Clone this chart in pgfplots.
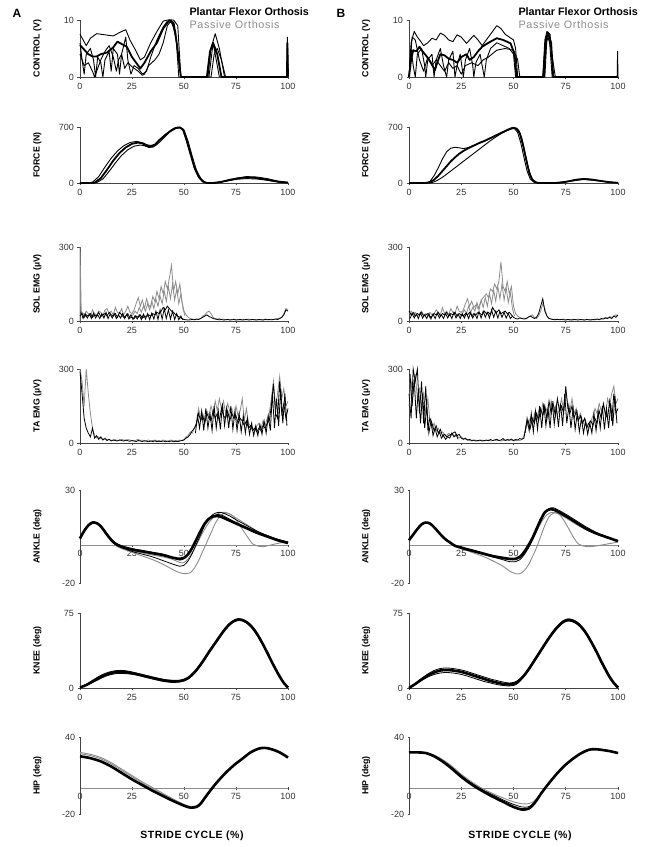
\documentclass[border=0pt]{standalone}
\usepackage{fontspec}
\setmainfont{Liberation Sans}
\usepackage{pgfplots}
\pgfplotsset{compat=1.18}
\definecolor{gr}{HTML}{8C8C8C}
\definecolor{ax}{HTML}{444444}
\pgfplotsset{
 panel/.style={scale only axis, xmin=0, xmax=100, xtick={0,25,50,75,100},
  axis x line*=bottom, axis y line*=left, tick align=outside, major tick length=2.5pt,
  every tick/.style={ax, line width=0.6pt}, axis line style={ax, line width=0.8pt},
  tick label style={font=\fontsize{9}{10}\selectfont, text=black!80},
  ylabel style={font=\bfseries\fontsize{8.8}{10}\selectfont, at={(axis description cs:-0.205,0.5)}, anchor=center},
  /pgf/number format/assume math mode=true, clip=false},
 colA/.style={width=208pt}, colB/.style={width=209pt},
 blk/.style={black, line width=0.9pt, line join=round},
 blkt/.style={black, line width=1.8pt, line join=round},
 gry/.style={gr, line width=0.9pt, line join=round},
 emgg/.style={gr, line width=0.8pt},
 emgb/.style={black, line width=0.8pt},
 kin/.style={black, line width=2.6pt, smooth},
 kint/.style={black, line width=0.8pt, smooth},
 kgr/.style={gr, line width=0.9pt, smooth},
 midx/.style={axis x line*=middle, tick align=center, x axis line style={gr, line width=1.2pt},
   extra x ticks={0.01}, extra x tick labels={0}},
}
\begin{document}
\begin{tikzpicture}
\path[use as bounding box] (0,0) rectangle (651pt,847pt);
\node[font=\bfseries\fontsize{12}{13}\selectfont] at (17pt,834pt) {A};
\node[font=\bfseries\fontsize{12}{13}\selectfont] at (341pt,834pt) {B};
\node[anchor=west, font=\bfseries\fontsize{10.8}{12}\selectfont] at (186pt,835pt) {Plantar Flexor Orthosis};
\node[anchor=west, text=gr, font=\fontsize{10.8}{12}\selectfont\addfontfeatures{LetterSpace=6}] at (186pt,822pt) {Passive Orthosis};
\node[anchor=west, font=\bfseries\fontsize{10.8}{12}\selectfont] at (515pt,835pt) {Plantar Flexor Orthosis};
\node[anchor=west, text=gr, font=\fontsize{10.8}{12}\selectfont\addfontfeatures{LetterSpace=6}] at (515pt,822pt) {Passive Orthosis};
\node[font=\bfseries\fontsize{10.5}{12}\selectfont\addfontfeatures{LetterSpace=5}] at (192pt,11pt) {STRIDE CYCLE (\%)};
\node[font=\bfseries\fontsize{10.5}{12}\selectfont\addfontfeatures{LetterSpace=5}] at (520pt,11pt) {STRIDE CYCLE (\%)};

% ================= COLUMN A =================
% A1 CONTROL
\begin{axis}[panel, colA, height=57pt, at={(80pt,770pt)}, anchor=south west, ymin=0, ymax=10, ytick={0,10}, ylabel={CONTROL (V)}]
\addplot[blk] coordinates {(0,7.5)(1.5,6.5)(3,5.5)(5,6.8)(8,7.6)(12,7.4)(16,7.2)(19,7.8)(22,8.3)(24,6.5)(27,4.5)(29,3)(31,3.5)(34,6)(37,8)(40,9.8)(42,10)(45,10)(47,9)(48.5,0)(61.5,0)(63,5)(65,7.6)(67,5)(69.5,0)(99.4,0)(99.7,7)(100,0)};
\addplot[blk] coordinates {(0,6)(1,3)(2,0.5)(3,4)(5,5)(6.5,3)(7.5,0)(8.5,3.5)(10,2.5)(11,0)(12,3)(14,4.5)(15,1)(16,5)(18,4)(19,0.5)(20,4)(22,7)(23,3)(24.5,0.5)(26,2)(28,1.5)(30,0.5)(32,1)(34,3.5)(37,6.5)(40,8.8)(42,9.8)(44,9.5)(46,8)(47.5,0)(62,0)(63,3)(64,6)(65.5,3)(67,0)(99.5,0)(99.8,5)(100,0)};
\addplot[blk] coordinates {(0,4)(2,2)(4,2.5)(6,1)(7,0)(8,1)(10,3)(12,4.5)(14,5.5)(16,3.5)(17.5,1)(18.5,3)(20,4)(21.5,1.5)(23,2.5)(25,1.8)(28,1)(30,0.3)(31,0.5)(33,2)(36,3)(38,4)(40,6)(42,9)(44,10)(46,7)(47.5,3)(48.5,0)(63,0)(64.5,4)(66,5)(68,3)(70,0)(100,0)};
\addplot[blkt] coordinates {(0,5.6)(2,4.8)(4,4)(6,3.6)(8,3.6)(10,4)(13,4.3)(16,5.2)(18,6.2)(20,5.8)(22.5,5.3)(25,3.5)(27,2.5)(29,1.5)(31,2.5)(34,4.5)(37,6)(40,8.5)(43,10)(45,9.5)(46.5,6)(48.5,0)(61,0)(62.5,4.5)(64,6)(66,4)(68,0)(99.5,0)(99.7,6)(100,0)};
\end{axis}

% A2 FORCE
\begin{axis}[panel, colA, height=56pt, at={(80pt,664pt)}, anchor=south west, ymin=0, ymax=700, ytick={0,700}, ylabel={FORCE (N)}]
\addplot[blk] coordinates {(0,0)(4,0)(6,10)(9,80)(12,200)(15,310)(18,400)(21,465)(24,505)(27,520)(30,505)(32,480)(34,468)(36,485)(38,540)(41,605)(44,665)(46,690)(48,690)(49.5,660)(51,540)(53,360)(55,180)(57,70)(59,15)(61,0)(65,0)(70,20)(75,45)(80,55)(85,50)(90,35)(95,15)(100,3)};
\addplot[blk] coordinates {(0,0)(6,0)(8,5)(11,50)(14,145)(17,250)(20,345)(23,415)(26,460)(29,475)(31,465)(33,445)(35,448)(37,480)(40,555)(43,635)(46,680)(48,690)(50,665)(52,520)(54,330)(56,160)(58,60)(60,10)(62,0)(66,0)(70,25)(75,55)(80,80)(85,75)(90,55)(95,25)(100,8)};
\addplot[blkt] coordinates {(0,0)(5,0)(7,5)(10,60)(13,165)(16,280)(19,375)(22,445)(25,490)(28,505)(30,495)(32,465)(34,455)(36,475)(38,530)(41,600)(44,660)(46,690)(48,695)(49.5,670)(51,560)(53,380)(55,200)(57,80)(59,20)(61,0)(64,0)(68,15)(72,40)(76,60)(80,70)(84,65)(88,50)(92,30)(96,12)(100,5)};
\end{axis}

% A3 SOL EMG
\begin{axis}[panel, colA, height=74pt, at={(80pt,526pt)}, anchor=south west, ymin=0, ymax=300, ytick={0,300}, ylabel={SOL EMG (µV)}]
\addplot[emgg] coordinates {(0,0)(0,300)(0.6,40)(1,35)(2,25)(3,40)(4,30)(5,20)(6,45)(7,30)(8,25)(9,40)(10,35)(11,20)(12,45)(13,50)(14,30)(15,40)(16,25)(17,55)(18,35)(19,30)(20,50)(21,25)(22,40)(23,60)(24,35)(25,30)(26,45)(27,70)(28,95)(29,60)(30,85)(31,50)(32,90)(33,65)(34,55)(35,100)(36,80)(37,120)(38,90)(39,140)(40,110)(41,160)(42,130)(43,175)(44,225)(45,120)(46,160)(47,110)(48,150)(49,80)(50,40)(51,25)(52,15)(53,10)(54,8)(55,6)(56,5)(57,8)(58,10)(59,20)(60,25)(61,35)(62,40)(63,30)(64,15)(65,10)(66,8)(67,10)(68,6)(69,8)(70,5)(71,7)(72,5)(73,6)(74,8)(75,5)(76,6)(77,4)(78,7)(79,5)(80,6)(81,8)(82,5)(83,6)(84,4)(85,7)(86,5)(87,6)(88,5)(89,8)(90,6)(91,5)(92,7)(93,6)(94,8)(95,10)(96,12)(97,15)(98,30)(99,50)(100,45)};
\addplot[emgg] coordinates {(24.5,20)(25.5,25)(26.5,40)(27.5,30)(28.5,55)(29.5,35)(30.5,60)(31.5,40)(32.5,70)(33.5,45)(34.5,80)(35.5,50)(36.5,90)(37.5,60)(38.5,100)(39.5,70)(40.5,120)(41.5,80)(42.5,140)(43.5,90)(44.5,150)(45.5,85)(46.5,130)(47.5,70)(48.5,110)(49.5,50)(50.5,20)};
\addplot[emgb] coordinates {(0,20)(1,30)(2,15)(3,25)(4,20)(5,30)(6,15)(7,25)(8,20)(9,35)(10,18)(11,25)(12,30)(13,20)(14,35)(15,25)(16,20)(17,30)(18,15)(19,35)(20,25)(21,15)(22,20)(23,30)(24,12)(25,15)(26,10)(27,20)(28,15)(29,25)(30,12)(31,20)(32,18)(33,25)(34,20)(35,30)(36,25)(37,35)(38,30)(39,40)(40,55)(41,45)(42,60)(43,50)(44,40)(45,35)(46,25)(47,20)(48,15)(49,10)(50,6)(51,5)(52,4)(53,5)(54,6)(55,5)(56,8)(57,6)(58,10)(59,15)(60,20)(61,25)(62,18)(63,15)(64,10)(65,8)(66,6)(67,5)(68,6)(69,4)(70,5)(71,6)(72,4)(73,5)(74,6)(75,4)(76,5)(77,6)(78,4)(79,5)(80,6)(81,4)(82,5)(83,6)(84,5)(85,4)(86,6)(87,5)(88,4)(89,6)(90,5)(91,6)(92,5)(93,6)(94,8)(95,6)(96,10)(97,15)(98,25)(99,45)(100,40)};
\addplot[emgb] coordinates {(0.5,35)(1.5,10)(2.5,30)(3.5,12)(4.5,28)(5.5,10)(6.5,32)(7.5,12)(8.5,25)(9.5,10)(10.5,30)(11.5,12)(12.5,35)(13.5,10)(14.5,28)(15.5,12)(16.5,30)(17.5,10)(18.5,25)(19.5,12)(20.5,30)(21.5,10)(22.5,28)(23.5,8)(24.5,25)(25.5,6)(26.5,22)(27.5,8)(28.5,25)(29.5,6)(30.5,28)(31.5,8)(32.5,30)(33.5,6)(34.5,32)(35.5,8)(36.5,40)(37.5,6)(38.5,45)(39.5,8)(40.5,50)(41.5,10)(42.5,45)(43.5,8)(44.5,40)(45.5,6)(46.5,30)(47.5,5)(48.5,20)(49.5,4)};
\end{axis}

% A4 TA EMG
\begin{axis}[panel, colA, height=74pt, at={(80pt,404pt)}, anchor=south west, ymin=0, ymax=300, ytick={0,300}, ylabel={TA EMG (µV)}]
\addplot[emgg] coordinates {(0,300)(1,250)(2,150)(3,300)(4,200)(5,120)(6,60)(7,30)(8,20)(9,25)(10,18)(11,15)(12,20)(13,12)(14,15)(15,10)(16,12)(17,14)(18,10)(19,12)(20,15)(21,12)(22,10)(23,14)(24,12)(25,10)(26,8)(27,12)(28,15)(29,10)(30,12)(31,8)(32,10)(33,12)(34,8)(35,10)(36,12)(37,9)(38,10)(39,8)(40,12)(41,10)(42,8)(43,10)(44,12)(45,9)(46,10)(47,8)(48,12)(49,10)(50,15)(51,25)(52,30)(53,45)(54,40)(55,60)(56,80)(57,140)(58,100)(59,120)(60,90)(61,130)(62,110)(63,150)(64,120)(65,170)(66,130)(67,180)(68,140)(69,170)(70,120)(71,160)(72,130)(73,140)(74,100)(75,150)(76,110)(77,130)(78,180)(79,90)(80,140)(81,80)(82,70)(83,60)(84,50)(85,70)(86,80)(87,60)(88,90)(89,70)(90,100)(91,120)(92,180)(93,250)(94,150)(95,200)(96,270)(97,180)(98,220)(99,150)(100,170)};
\addplot[emgb] coordinates {(0,290)(1,200)(2,100)(3,60)(4,40)(5,25)(6,60)(7,20)(8,30)(9,15)(10,25)(11,12)(12,18)(13,10)(14,15)(15,8)(16,12)(17,10)(18,8)(19,12)(20,10)(21,8)(22,12)(23,9)(24,7)(25,10)(26,8)(27,6)(28,10)(29,8)(30,6)(31,9)(32,7)(33,5)(34,8)(35,6)(36,9)(37,5)(38,7)(39,6)(40,8)(41,5)(42,7)(43,6)(44,8)(45,5)(46,7)(47,6)(48,8)(49,10)(50,12)(51,20)(52,25)(53,35)(54,50)(55,60)(56,80)(57,120)(58,90)(59,110)(60,80)(61,120)(62,100)(63,90)(64,130)(65,100)(66,120)(67,90)(68,140)(69,110)(70,100)(71,130)(72,90)(73,120)(74,100)(75,110)(76,80)(77,100)(78,90)(79,70)(80,90)(81,60)(82,70)(83,50)(84,60)(85,45)(86,60)(87,50)(88,70)(89,60)(90,80)(91,90)(92,150)(93,240)(94,120)(95,100)(96,250)(97,120)(98,160)(99,100)(100,140)};
\addplot[emgb] coordinates {(55.5,40)(56.5,110)(57.5,60)(58.5,130)(59.5,50)(60.5,140)(61.5,60)(62.5,120)(63.5,50)(64.5,150)(65.5,60)(66.5,130)(67.5,55)(68.5,160)(69.5,70)(70.5,140)(71.5,60)(72.5,150)(73.5,55)(74.5,130)(75.5,50)(76.5,120)(77.5,45)(78.5,110)(79.5,40)(80.5,100)(81.5,35)(82.5,80)(83.5,30)(84.5,70)(85.5,30)(86.5,75)(87.5,35)(88.5,90)(89.5,40)(90.5,110)(91.5,50)(92.5,200)(93.5,60)(94.5,180)(95.5,70)(96.5,220)(97.5,80)(98.5,200)(99.5,70)};
\end{axis}

% A5 ANKLE
\begin{axis}[panel, colA, midx, height=93pt, at={(80pt,264pt)}, anchor=south west, ymin=-20, ymax=30, ytick={-20,30}, ylabel={ANKLE (deg)}]
\addplot[kgr] coordinates {(0,4)(2,8)(4,11)(6,12.5)(8,12)(10,10.5)(12,7.5)(14,4.5)(16,1.5)(18,-0.5)(20,-1.5)(25,-3.5)(30,-5.5)(35,-7.5)(40,-10)(45,-13)(48,-14.5)(51,-15)(53,-14.5)(55,-12)(57,-8)(59,-3)(61,2)(63,7)(65,12)(67,15.5)(69,17.3)(71,17.5)(73,16.5)(75,14)(78,9)(81,4)(83,1)(85,0)(88,-0.5)(92,0.5)(96,1.5)(100,2)};
\addplot[kgr] coordinates {(0,4)(2,8)(4,11)(6,12.5)(8,12.2)(10,10.5)(12,7.5)(14,4.5)(16,2)(18,0.3)(20,-0.8)(25,-2.5)(30,-3.8)(35,-5)(40,-6)(45,-7.5)(48,-9)(50,-9)(52,-7)(54,-3.5)(56,0.5)(58,5)(60,9)(62,12.5)(64,15)(66,17)(68,18)(70,18)(72,17)(75,15)(80,11.5)(85,8)(90,5)(95,3)(100,1.5)};
\addplot[kint] coordinates {(0,3.5)(2,7.5)(4,10.5)(6,12)(8,12)(10,10.5)(12,7.5)(14,4.5)(16,2)(18,0)(20,-1)(25,-3)(30,-4.5)(35,-6)(40,-8)(45,-10)(48,-11)(50,-10.5)(52,-8)(54,-4)(56,1)(58,6)(60,11)(62,14)(64,16)(66,16.8)(68,16.5)(70,15.5)(75,12.5)(80,10)(85,7.5)(90,5.5)(95,3.5)(100,2)};
\addplot[kint] coordinates {(0,4)(2,8)(4,11)(6,12.5)(8,12.3)(10,10.8)(12,8)(14,5)(16,2.5)(18,1)(20,0)(25,-1.5)(30,-2.5)(35,-3.5)(40,-4.5)(44,-6)(47,-7.5)(49,-7.5)(51,-6)(53,-3)(55,1)(57,5.5)(59,10)(61,13.5)(63,16)(65,17.5)(67,18)(69,17.5)(72,16)(75,14)(80,11)(85,8)(90,5.5)(95,3.5)(100,2)};
\addplot[kin] coordinates {(0,4)(2,8)(4,11)(6,12.5)(8,12.2)(10,10.5)(12,7.5)(14,4.5)(16,2)(18,0.5)(20,-0.5)(25,-2)(30,-3)(35,-4)(40,-5)(45,-6.5)(48,-7)(50,-6.5)(52,-4.5)(54,-1)(56,3.5)(58,8)(60,12)(62,14.5)(64,15.8)(66,16)(68,15.5)(70,14.5)(75,12)(80,9.5)(85,7)(90,5)(95,3)(100,1.5)};
\end{axis}

% A6 KNEE
\begin{axis}[panel, colA, height=75pt, at={(80pt,159pt)}, anchor=south west, ymin=0, ymax=75, ytick={0,75}, ylabel={KNEE (deg)}]
\addplot[kint] coordinates {(0,0.5)(3,3.5)(6,7.5)(9,11.5)(12,14.5)(15,16.5)(18,17.5)(21,17.5)(24,16.5)(27,15)(30,13.5)(33,12)(36,10.5)(39,9)(42,8)(45,7.5)(48,7.5)(50,8.5)(52,10.5)(54,14)(56,18.5)(58,24)(60,30)(62,36.5)(64,42.5)(66,48.5)(68,54.5)(70,60)(72,64.5)(74,67.5)(76,69)(78,68.5)(80,66.5)(82,63)(84,58)(86,51.5)(88,44)(90,36)(92,27.5)(94,19.5)(96,12)(98,5.5)(100,0.5)};
\addplot[kint] coordinates {(0,0.5)(3,2.5)(6,5.5)(9,8.5)(12,11.5)(15,13.5)(18,14.5)(21,14.5)(24,14)(27,13)(30,11.5)(33,10)(36,8.5)(39,7)(42,6)(45,5.5)(48,6)(50,7)(52,9)(54,12.5)(56,17)(58,22.5)(60,28.5)(62,35)(64,41)(66,47)(68,53)(70,58.5)(72,63)(74,66)(76,67.5)(78,67)(80,65)(82,61.5)(84,56.5)(86,50)(88,42.5)(90,34.5)(92,26)(94,18)(96,10.5)(98,4.5)(100,0.5)};
\addplot[kin] coordinates {(0,0.5)(3,3)(6,6.5)(9,10)(12,13)(15,15)(18,16)(21,16)(24,15.2)(27,14)(30,12.5)(33,11)(36,9.5)(39,8.2)(42,7.2)(45,6.8)(48,7)(50,8)(52,10)(54,13.5)(56,18)(58,23.5)(60,29.5)(62,36)(64,42)(66,48)(68,54)(70,59.5)(72,64)(74,67)(76,68.5)(78,68)(80,66)(82,62.5)(84,57.5)(86,51)(88,43.5)(90,35.5)(92,27)(94,19)(96,11.5)(98,5)(100,0.5)};
\end{axis}

% A7 HIP
\begin{axis}[panel, colA, midx, height=77pt, at={(80pt,33pt)}, anchor=south west, ymin=-20, ymax=40, ytick={-20,40}, ylabel={HIP (deg)}]
\addplot[kgr] coordinates {(0,28)(5,26.5)(10,24)(15,20)(20,15)(25,10)(30,5)(35,0.5)(40,-4)(45,-8.5)(50,-12.5)(53,-14)(56,-13.5)(58,-11)(60,-7)(63,-0.5)(66,5.5)(70,12.5)(74,18.5)(78,23.5)(82,28)(86,31)(89,31.8)(92,31)(96,28.5)(100,24.5)};
\addplot[kgr] coordinates {(0,27)(5,25.5)(10,23)(15,19)(20,14)(25,9)(30,4)(35,-0.5)(40,-5)(45,-9.5)(50,-13)(53,-14.5)(56,-14)(58,-11.5)(60,-7.5)(63,-1)(66,5)(70,12)(74,18)(78,23)(82,27.5)(86,30.5)(89,31.5)(92,30.8)(96,28.2)(100,24.2)};
\addplot[kin] coordinates {(0,25)(5,23.5)(10,21)(15,17)(20,12)(25,7)(30,2.5)(35,-2)(40,-6)(45,-10)(50,-13.5)(53,-15)(56,-14.5)(58,-12)(60,-7.5)(63,-1)(66,5)(70,12)(74,18)(78,23)(82,28)(86,31)(89,31.5)(92,30.5)(96,28)(100,24)};
\end{axis}

% ================= COLUMN B =================
% B1 CONTROL
\begin{axis}[panel, colB, height=57pt, at={(409pt,770pt)}, anchor=south west, ymin=0, ymax=10, ytick={0,10}, ylabel={CONTROL (V)}]
\addplot[blk] coordinates {(0,0)(1,6)(2.5,8)(4,7)(5.5,6.3)(7,5.5)(9,6)(11,6.8)(13,6.5)(15,7.7)(17,7.3)(19,6.5)(21,6.2)(23,7.4)(25,7)(27.5,5.9)(29,6.5)(31,7.3)(33,6.5)(35,5.5)(37,6.5)(40,8)(42,9)(44,8.5)(46,7.5)(48,7)(50,6.5)(51,5)(52,0)(64,0)(65,6.5)(66,8)(67.5,7.5)(69,0)(99.6,0)(99.8,4.5)(100,0)};
\addplot[blk] coordinates {(0,0)(1,5)(2,2)(3,0)(4,4)(6,5)(7.5,2)(8,0)(9,3)(11,4)(12,0)(13,3)(15,5)(16.5,2)(18,0)(19,3)(21,4.5)(22,0)(23,2)(24.5,4)(26,0)(27,3)(29,5)(30.5,2)(31,0)(32,2.5)(34,4)(36,0)(37,3)(39,5)(42,6)(45,5.5)(48,5)(50,4)(51,0)(65,0)(66,7)(67,7.5)(68.5,0)(100,0)};
\addplot[blk] coordinates {(0,0)(1.5,7)(3,6.5)(5,3)(7,1)(9,3.5)(11,2)(13,3)(15,2)(17,1)(19,2.5)(21,1.5)(23,2)(25,0.5)(27,2)(30,2.5)(33,2)(35.5,3)(38,3.5)(42,4.7)(46,5)(50,4.7)(52,3)(53,0)(64,0)(65,5)(66.5,7)(68,5)(70,0)(100,0)};
\addplot[blkt] coordinates {(0,0)(1,3)(2,4.7)(3.5,4.5)(5,5.3)(6.5,4.5)(8.5,3.6)(10.5,2.5)(12.4,1.2)(13.5,2.5)(15,4)(17,3.8)(19,3.2)(21,3)(23,2.5)(25,3.5)(27.5,4)(29,3)(31,3.5)(33,4.5)(35,5.3)(38,6)(42,6.8)(45,6.5)(48.6,5.9)(50.5,4)(51.5,0)(64.5,0)(65.5,6.5)(66.5,7.8)(68,6)(69,0)(100,0)};
\end{axis}

% B2 FORCE
\begin{axis}[panel, colB, height=56pt, at={(409pt,664pt)}, anchor=south west, ymin=0, ymax=700, ytick={0,700}, ylabel={FORCE (N)}]
\addplot[blk] coordinates {(0,0)(8,0)(10,20)(12,90)(14,190)(16,300)(18,390)(20,435)(22,445)(24,440)(26,430)(28,440)(30,460)(32,480)(35,510)(38,545)(41,585)(44,625)(47,660)(49,690)(50.5,680)(52,630)(53.5,500)(55,320)(56.5,150)(58,50)(60,5)(62,0)(72,0)(76,20)(80,45)(84,55)(88,45)(92,25)(96,10)(100,2)};
\addplot[blk] coordinates {(0,0)(9,0)(11,5)(13,25)(15,55)(17,90)(19,130)(21,170)(23,210)(25,250)(27,290)(29,330)(31,370)(33,410)(35,450)(37,490)(39,530)(41,565)(43,600)(45,630)(47,655)(49,675)(51,685)(52.5,660)(54,560)(55.5,380)(57,200)(58.5,70)(60,15)(62,0)(72,0)(78,25)(83,45)(88,35)(94,15)(100,3)};
\addplot[blkt] coordinates {(0,0)(8,0)(10,10)(12,40)(14,90)(16,150)(18,210)(20,270)(22,320)(24,365)(26,400)(28,430)(30,455)(32,480)(34,505)(36,525)(38,550)(40,575)(42,600)(44,625)(46,650)(48,675)(50,690)(51.5,680)(53,620)(54.5,480)(56,300)(57.5,130)(59,40)(61,5)(63,0)(70,0)(75,15)(80,40)(84,50)(88,40)(92,25)(96,10)(100,3)};
\end{axis}

% B3 SOL EMG
\begin{axis}[panel, colB, height=74pt, at={(409pt,526pt)}, anchor=south west, ymin=0, ymax=300, ytick={0,300}, ylabel={SOL EMG (µV)}]
\addplot[emgg] coordinates {(0,30)(1,40)(2,25)(3,35)(4,20)(5,30)(6,40)(7,25)(8,30)(9,20)(10,35)(11,25)(12,30)(13,45)(14,35)(15,25)(16,55)(17,30)(18,40)(19,25)(20,50)(21,35)(22,30)(23,60)(24,40)(25,35)(26,45)(27,70)(28,90)(29,60)(30,80)(31,55)(32,65)(33,50)(34,70)(35,90)(36,100)(37,110)(38,95)(39,130)(40,120)(41,150)(42,130)(43,160)(44,240)(45,140)(46,120)(47,160)(48,110)(49,140)(50,60)(51,30)(52,20)(53,15)(54,10)(55,12)(56,8)(57,15)(58,20)(59,25)(60,15)(61,10)(62,20)(63,40)(64,70)(65,50)(66,20)(67,10)(68,8)(69,6)(70,8)(71,5)(72,7)(73,6)(74,8)(75,5)(76,6)(77,4)(78,7)(79,5)(80,6)(81,8)(82,5)(83,6)(84,4)(85,7)(86,5)(87,6)(88,5)(89,8)(90,6)(91,5)(92,7)(93,10)(94,15)(95,12)(96,18)(97,14)(98,20)(99,25)(100,20)};
\addplot[emgg] coordinates {(24.5,20)(25.5,30)(26.5,45)(27.5,30)(28.5,60)(29.5,35)(30.5,55)(31.5,40)(32.5,75)(33.5,45)(34.5,85)(35.5,55)(36.5,95)(37.5,60)(38.5,110)(39.5,70)(40.5,125)(41.5,80)(42.5,140)(43.5,90)(44.5,150)(45.5,85)(46.5,135)(47.5,75)(48.5,115)(49.5,50)(50.5,20)};
\addplot[emgb] coordinates {(0,40)(1,25)(2,35)(3,20)(4,30)(5,25)(6,35)(7,20)(8,25)(9,30)(10,15)(11,20)(12,30)(13,25)(14,35)(15,20)(16,30)(17,25)(18,35)(19,20)(20,30)(21,25)(22,35)(23,20)(24,30)(25,25)(26,20)(27,30)(28,25)(29,35)(30,20)(31,30)(32,25)(33,35)(34,30)(35,25)(36,40)(37,30)(38,35)(39,25)(40,55)(41,40)(42,35)(43,45)(44,30)(45,35)(46,40)(47,30)(48,35)(49,25)(50,15)(51,10)(52,8)(53,12)(54,10)(55,8)(56,10)(57,15)(58,20)(59,15)(60,10)(61,15)(62,30)(63,60)(64,90)(65,40)(66,20)(67,10)(68,8)(69,6)(70,5)(71,7)(72,5)(73,6)(74,5)(75,4)(76,6)(77,5)(78,4)(79,6)(80,5)(81,4)(82,6)(83,5)(84,4)(85,6)(86,5)(87,4)(88,6)(89,5)(90,8)(91,6)(92,10)(93,8)(94,12)(95,10)(96,15)(97,10)(98,20)(99,15)(100,25)};
\addplot[emgb] coordinates {(0.5,10)(1.5,30)(2.5,12)(3.5,28)(4.5,10)(5.5,32)(6.5,12)(7.5,25)(8.5,10)(9.5,30)(10.5,8)(11.5,28)(12.5,10)(13.5,32)(14.5,12)(15.5,25)(16.5,10)(17.5,30)(18.5,12)(19.5,28)(20.5,10)(21.5,35)(22.5,12)(23.5,28)(24.5,10)(25.5,30)(26.5,12)(27.5,32)(28.5,10)(29.5,35)(30.5,12)(31.5,30)(32.5,10)(33.5,38)(34.5,12)(35.5,40)(36.5,15)(37.5,35)(38.5,12)(39.5,45)(40.5,15)(41.5,40)(42.5,12)(43.5,38)(44.5,15)(45.5,35)(46.5,12)(47.5,30)(48.5,10)(49.5,20)};
\end{axis}

% B4 TA EMG
\begin{axis}[panel, colB, height=74pt, at={(409pt,404pt)}, anchor=south west, ymin=0, ymax=300, ytick={0,300}, ylabel={TA EMG (µV)}]
\addplot[emgg] coordinates {(0,150)(1,250)(2,200)(3,280)(4,180)(5,220)(6,150)(7,200)(8,120)(9,180)(10,90)(11,60)(12,80)(13,50)(14,60)(15,40)(16,45)(17,35)(18,30)(19,40)(20,30)(21,35)(22,25)(23,30)(24,20)(25,25)(26,18)(27,15)(28,12)(29,10)(30,8)(31,10)(32,12)(33,8)(34,10)(35,12)(36,8)(37,10)(38,12)(39,8)(40,10)(41,12)(42,9)(43,11)(44,8)(45,10)(46,12)(47,9)(48,10)(49,12)(50,8)(51,10)(52,12)(53,10)(54,15)(55,30)(56,60)(57,80)(58,100)(59,70)(60,120)(61,90)(62,130)(63,110)(64,160)(65,120)(66,140)(67,100)(68,170)(69,130)(70,150)(71,110)(72,140)(73,180)(74,130)(75,200)(76,160)(77,130)(78,180)(79,120)(80,140)(81,100)(82,120)(83,90)(84,70)(85,80)(86,60)(87,90)(88,110)(89,140)(90,120)(91,160)(92,130)(93,150)(94,110)(95,180)(96,150)(97,200)(98,230)(99,160)(100,180)};
\addplot[emgb] coordinates {(0,200)(1,100)(2,300)(3,250)(4,300)(5,120)(6,250)(7,80)(8,230)(9,60)(10,100)(11,80)(12,50)(13,70)(14,40)(15,55)(16,30)(17,35)(18,25)(19,30)(20,35)(21,40)(22,45)(23,30)(24,35)(25,20)(26,15)(27,20)(28,12)(29,15)(30,10)(31,12)(32,8)(33,10)(34,12)(35,8)(36,10)(37,12)(38,9)(39,14)(40,10)(41,12)(42,15)(43,10)(44,12)(45,18)(46,10)(47,14)(48,12)(49,16)(50,10)(51,14)(52,12)(53,18)(54,15)(55,20)(56,70)(57,90)(58,60)(59,100)(60,80)(61,120)(62,90)(63,140)(64,110)(65,150)(66,100)(67,170)(68,120)(69,160)(70,110)(71,180)(72,130)(73,150)(74,120)(75,230)(76,140)(77,120)(78,150)(79,100)(80,130)(81,90)(82,110)(83,80)(84,100)(85,60)(86,80)(87,90)(88,70)(89,100)(90,80)(91,130)(92,100)(93,160)(94,120)(95,100)(96,170)(97,90)(98,200)(99,120)(100,140)};
\addplot[emgb] coordinates {(0.5,280)(1.5,150)(2.5,260)(3.5,100)(4.5,220)(5.5,80)(6.5,200)(7.5,60)(8.5,150)(9.5,40)(10.5,90)(11.5,30)(12.5,60)(13.5,25)(14.5,45)(15.5,20)(16.5,30)(17.5,15)(18.5,25)(19.5,20)(20.5,40)(21.5,25)(22.5,35)(23.5,15)};
\addplot[emgb] coordinates {(55.5,40)(56.5,100)(57.5,50)(58.5,120)(59.5,45)(60.5,130)(61.5,55)(62.5,150)(63.5,60)(64.5,160)(65.5,70)(66.5,140)(67.5,60)(68.5,170)(69.5,75)(70.5,150)(71.5,65)(72.5,160)(73.5,70)(74.5,200)(75.5,80)(76.5,150)(77.5,60)(78.5,140)(79.5,55)(80.5,120)(81.5,45)(82.5,100)(83.5,40)(84.5,90)(85.5,35)(86.5,80)(87.5,40)(88.5,120)(89.5,50)(90.5,130)(91.5,60)(92.5,150)(93.5,55)(94.5,140)(95.5,60)(96.5,160)(97.5,70)(98.5,190)(99.5,80)};
\end{axis}

% B5 ANKLE
\begin{axis}[panel, colB, midx, height=93pt, at={(409pt,264pt)}, anchor=south west, ymin=-20, ymax=30, ytick={-20,30}, ylabel={ANKLE (deg)}]
\addplot[kgr] coordinates {(0,3)(2,6)(4,9)(6,11.5)(8,12.5)(10,12)(12,10)(14,7.5)(16,5)(18,3)(20,1.5)(22,0)(25,-1.5)(30,-3.5)(35,-5.5)(40,-8)(45,-11)(48,-13.5)(51,-15)(53,-15)(55,-13.5)(57,-10.5)(59,-6)(61,-1)(63,5)(65,11)(67,15.5)(69,17.5)(71,17.5)(73,15.5)(75,12)(77,8)(79,4)(81,1)(83,0)(86,-0.5)(90,0)(95,1)(100,2)};
\addplot[kgr] coordinates {(0,3)(2,6)(4,9)(6,11.5)(8,12.5)(10,12)(12,10)(14,7.5)(16,5)(18,3)(20,1.5)(22,0)(25,-1)(30,-2.5)(35,-4)(40,-5.5)(45,-7)(48,-7.5)(51,-7.5)(53,-6.5)(55,-4)(57,-1)(59,3)(61,7.5)(63,12)(65,15.5)(67,17.5)(69,18)(71,17.5)(75,15)(80,11.5)(85,8.5)(90,6)(95,4)(100,2.5)};
\addplot[kint] coordinates {(0,3)(2,6)(4,9)(6,11.5)(8,12.5)(10,12)(12,10)(14,7.5)(16,5)(18,3)(20,1.5)(22,0)(25,-1.5)(30,-3)(35,-4.5)(40,-6)(45,-7.5)(48,-8.5)(51,-8.5)(53,-7.5)(55,-5)(57,-1.5)(59,3)(61,8)(63,13)(65,17.5)(67,20)(69,20.5)(71,19.5)(75,17)(80,13.5)(85,10)(90,7)(95,4.5)(100,2.5)};
\addplot[kin] coordinates {(0,3)(2,6)(4,9)(6,11.5)(8,12.5)(10,12)(12,10)(14,7.5)(16,5)(18,3)(20,1.5)(22,0)(25,-1)(30,-2.5)(35,-4)(40,-5.5)(45,-6.5)(48,-7)(51,-7)(53,-6)(55,-3.5)(57,0)(59,4)(61,9)(63,14)(65,18)(67,19.5)(69,19.5)(71,18.5)(75,16)(80,12.5)(85,9)(90,6.5)(95,4.5)(100,2.5)};
\end{axis}

% B6 KNEE
\begin{axis}[panel, colB, height=75pt, at={(409pt,159pt)}, anchor=south west, ymin=0, ymax=75, ytick={0,75}, ylabel={KNEE (deg)}]
\addplot[kint] coordinates {(0,0)(3,4.5)(6,9.5)(9,14)(12,17.5)(15,19.5)(18,20)(21,19.5)(24,18.5)(27,17)(30,15)(33,13)(36,11)(39,9)(42,7.5)(45,6)(48,5)(50,5.5)(52,7.5)(54,11)(56,16)(58,22)(60,28.5)(62,35)(64,41.5)(66,48)(68,54)(70,59.5)(72,64)(74,67.5)(76,69)(78,68.5)(80,66.5)(82,63)(84,58)(86,51.5)(88,44)(90,36)(92,27.5)(94,19.5)(96,12)(98,5.5)(100,0.5)};
\addplot[kint] coordinates {(0,0)(3,3.5)(6,7.5)(9,11)(12,13.5)(15,15)(18,15.5)(21,15)(24,14)(27,12.5)(30,10.5)(33,8.5)(36,6.5)(39,5)(42,3.5)(45,2.5)(48,2)(50,2.5)(52,4.5)(54,9)(56,14)(58,20)(60,26.5)(62,33)(64,39.5)(66,46)(68,52)(70,57.5)(72,62)(74,65.5)(76,67)(78,66.5)(80,64.5)(82,61)(84,56)(86,49.5)(88,42)(90,34)(92,25.5)(94,17.5)(96,10)(98,4.5)(100,0.5)};
\addplot[kin] coordinates {(0,0)(3,4)(6,8.5)(9,12.5)(12,15.5)(15,17.5)(18,18)(21,17.5)(24,16.5)(27,15)(30,13)(33,11)(36,9)(39,7)(42,5.5)(45,4)(48,3.5)(50,4)(52,6)(54,10)(56,15)(58,21)(60,27.5)(62,34)(64,40.5)(66,47)(68,53)(70,58.5)(72,63)(74,66.5)(76,68)(78,67.5)(80,65.5)(82,62)(84,57)(86,50.5)(88,43)(90,35)(92,26.5)(94,18.5)(96,11)(98,5)(100,0.5)};
\end{axis}

% B7 HIP
\begin{axis}[panel, colB, midx, height=77pt, at={(409pt,33pt)}, anchor=south west, ymin=-20, ymax=40, ytick={-20,40}, ylabel={HIP (deg)}]
\addplot[kgr] coordinates {(0,28.5)(4,28.5)(8,28)(12,26)(16,22.5)(20,18)(25,11)(30,5)(35,0)(40,-4)(45,-7.5)(50,-10.5)(54,-12)(57,-12)(59,-11)(61,-8)(63,-4)(66,2)(70,10)(74,17)(78,22.5)(82,27)(86,30.5)(89,31)(92,30.5)(96,29)(100,27.5)};
\addplot[kint] coordinates {(0,28)(4,28)(8,27.5)(12,25.5)(16,21.5)(20,17)(25,10)(30,4)(35,-1)(40,-5)(45,-9)(50,-12.5)(54,-14.5)(57,-14.5)(59,-12.5)(61,-9)(63,-4.5)(66,2)(70,10)(74,17)(78,22.5)(82,27)(86,30)(89,30.5)(92,30)(96,29)(100,27.5)};
\addplot[kin] coordinates {(0,28)(4,28)(8,27.5)(12,25)(16,21)(20,16)(25,9)(30,3)(35,-2)(40,-6.5)(45,-10.5)(50,-14.5)(54,-16.5)(57,-16)(59,-13.5)(61,-9.5)(63,-4.5)(66,2)(70,10)(74,17)(78,22.5)(82,27)(86,30)(89,30.5)(92,30)(96,29)(100,27.5)};
\end{axis}
\end{tikzpicture}
\end{document}
